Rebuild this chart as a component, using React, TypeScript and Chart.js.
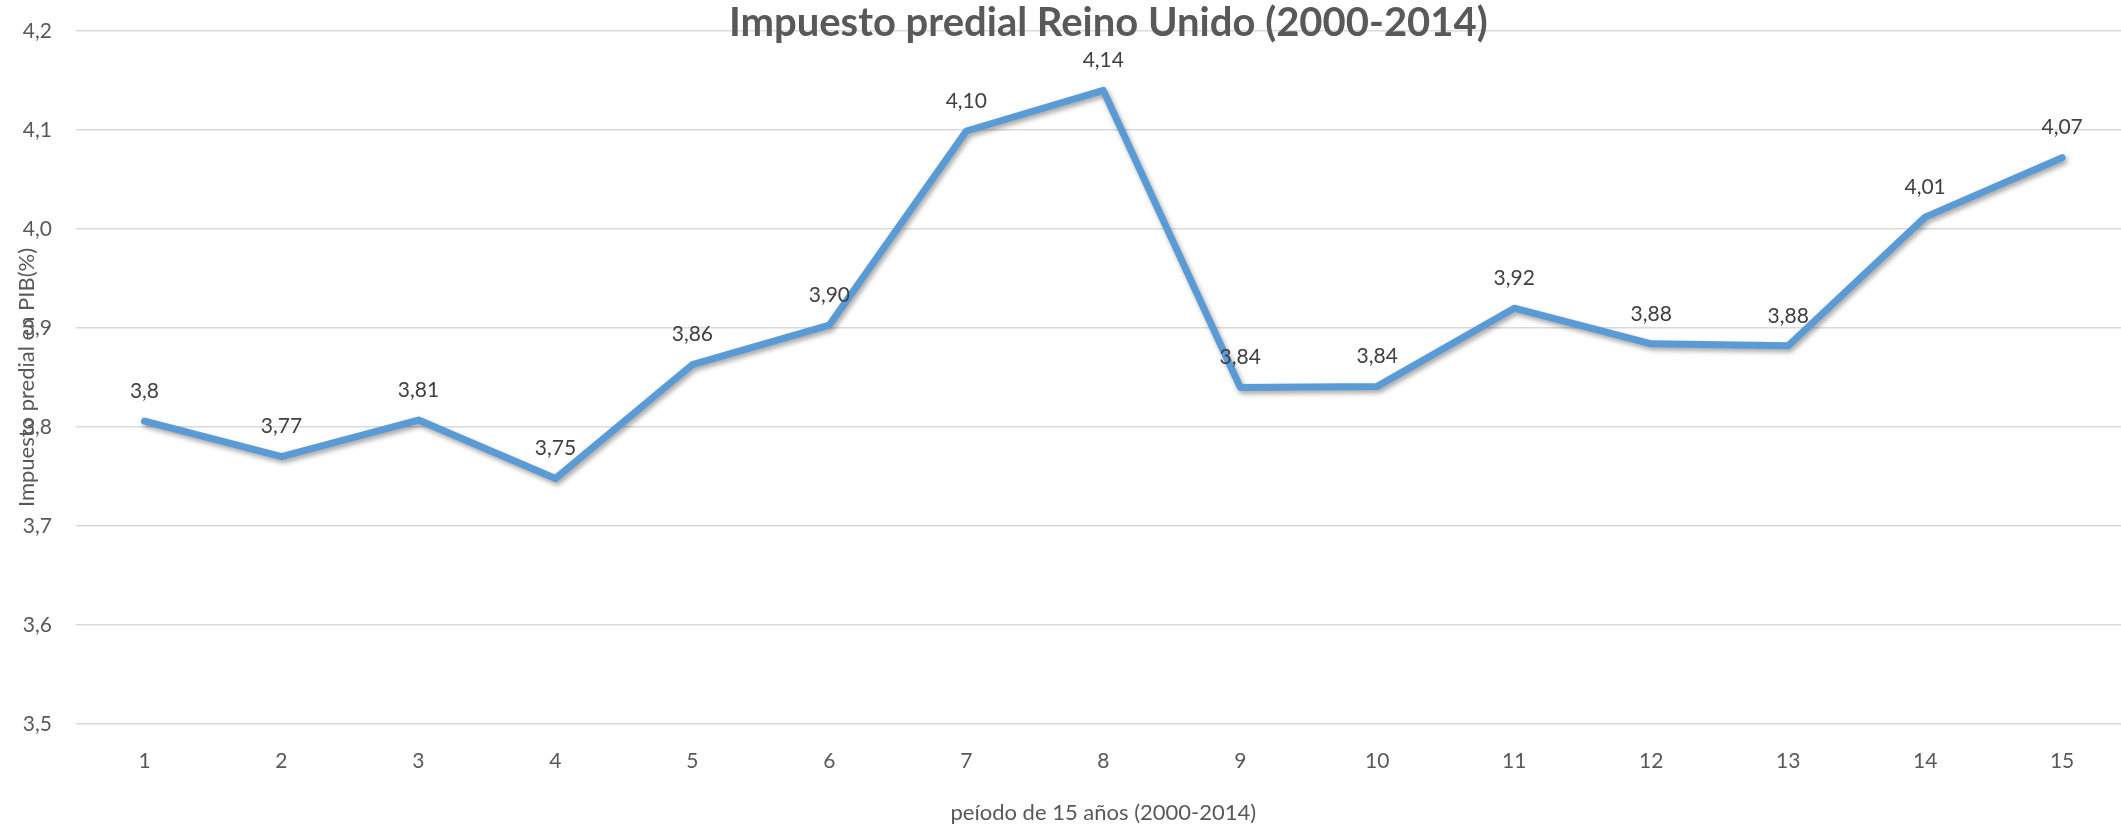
import React, { useEffect, useRef } from "react";
import { Chart, registerables } from "chart.js";

Chart.register(...registerables);

const chartTitle = "Impuesto predial Reino Unido (2000-2014)";
const xAxisTitle = "peíodo de 15 años (2000-2014)";
const yAxisTitle = "Impuesto predial en PIB(%)";

const categories = [1, 2, 3, 4, 5, 6, 7, 8, 9, 10, 11, 12, 13, 14, 15];
const values = [3.806, 3.77, 3.807, 3.748, 3.863, 3.903, 4.099, 4.14, 3.84, 3.841, 3.92, 3.884, 3.882, 4.012, 4.072];
const valueLabels = ["3,8", "3,77", "3,81", "3,75", "3,86", "3,90", "4,10", "4,14", "3,84", "3,84", "3,92", "3,88", "3,88", "4,01", "4,07"];
const yMin = 3.5;
const yMax = 4.2;
const yStep = 0.1;

const FONT = "Lato, 'Open Sans', sans-serif";
const TEXT = "#595959";

export default function App() {
  const ref = useRef<HTMLCanvasElement | null>(null);

  useEffect(() => {
    document.body.style.margin = "0";
    const canvas = ref.current;
    if (!canvas) return;

    const shadowPlugin = {
      id: "lineShadow",
      beforeDatasetsDraw(chart: any) {
        const ctx = chart.ctx;
        ctx.save();
        ctx.shadowColor = "rgba(0,0,0,0.35)";
        ctx.shadowBlur = 5;
        ctx.shadowOffsetX = 2;
        ctx.shadowOffsetY = 3;
      },
      afterDatasetsDraw(chart: any) {
        chart.ctx.restore();
      },
    };

    const textPlugin = {
      id: "texts",
      afterDraw(chart: any) {
        const ctx = chart.ctx;
        const area = chart.chartArea;
        const xs = chart.scales.x;
        const meta = chart.getDatasetMeta(0);
        ctx.save();
        // data labels
        ctx.font = `21px ${FONT}`;
        ctx.fillStyle = "#404040";
        ctx.textAlign = "center";
        ctx.textBaseline = "middle";
        meta.data.forEach((pt: any, i: number) => {
          ctx.fillText(valueLabels[i], pt.x, pt.y - 30);
        });
        const midX = xs.getPixelForValue(categories[7]);
        // title
        ctx.font = `bold 40px ${FONT}`;
        ctx.fillStyle = TEXT;
        ctx.textBaseline = "alphabetic";
        ctx.fillText(chartTitle, midX + 5, 36);
        // x axis title
        ctx.font = `22px ${FONT}`;
        ctx.textBaseline = "middle";
        ctx.fillText(xAxisTitle, midX, 813);
        // y axis title
        ctx.translate(27, (area.top + area.bottom) / 2);
        ctx.rotate(-Math.PI / 2);
        ctx.fillText(yAxisTitle, 0, 0);
        ctx.restore();
      },
    };

    const chart = new Chart(canvas, {
      type: "line",
      data: {
        datasets: [
          {
            data: categories.map((c, i) => ({ x: c, y: values[i] })),
            borderColor: "#5B9BD5",
            borderWidth: 7,
            pointRadius: 0,
            tension: 0,
            borderJoinStyle: "round",
            borderCapStyle: "round",
            fill: false,
          },
        ],
      },
      options: {
        responsive: false,
        animation: false,
        layout: { padding: { top: 31, left: 0, right: 0, bottom: 0 } },
        plugins: {
          legend: { display: false },
          title: { display: false },
          tooltip: { enabled: false },
        },
        scales: {
          x: {
            type: "linear",
            min: 0.5,
            max: 15.43,
            afterBuildTicks: (s: any) => {
              s.ticks = categories.map((v) => ({ value: v }));
            },
            afterFit: (s: any) => {
              s.height = 103;
              s.paddingLeft = 0;
              s.paddingRight = 0;
            },
            ticks: {
              autoSkip: false,
              maxRotation: 0,
              callback: (v: any) => String(v),
              color: TEXT,
              font: { family: FONT, size: 21 },
              padding: 25,
            },
            grid: { display: false, drawTicks: false },
            border: { display: false },
          },
          y: {
            min: yMin,
            max: yMax,
            afterFit: (s: any) => {
              s.width = 76;
              s.paddingTop = 0;
              s.paddingBottom = 0;
            },
            ticks: {
              stepSize: yStep,
              callback: (v: any) => Number(v).toFixed(1).replace(".", ","),
              color: TEXT,
              font: { family: FONT, size: 21 },
              padding: 24,
            },
            grid: { color: "#D9D9D9", lineWidth: 1.5, drawTicks: false },
            border: { display: false },
          },
        },
      },
      plugins: [shadowPlugin, textPlugin],
    });

    return () => chart.destroy();
  }, []);

  return (
    <div style={{ width: 2121, height: 827, background: "#fff" }}>
      <canvas ref={ref} width={2121} height={827} style={{ display: "block" }} />
    </div>
  );
}
